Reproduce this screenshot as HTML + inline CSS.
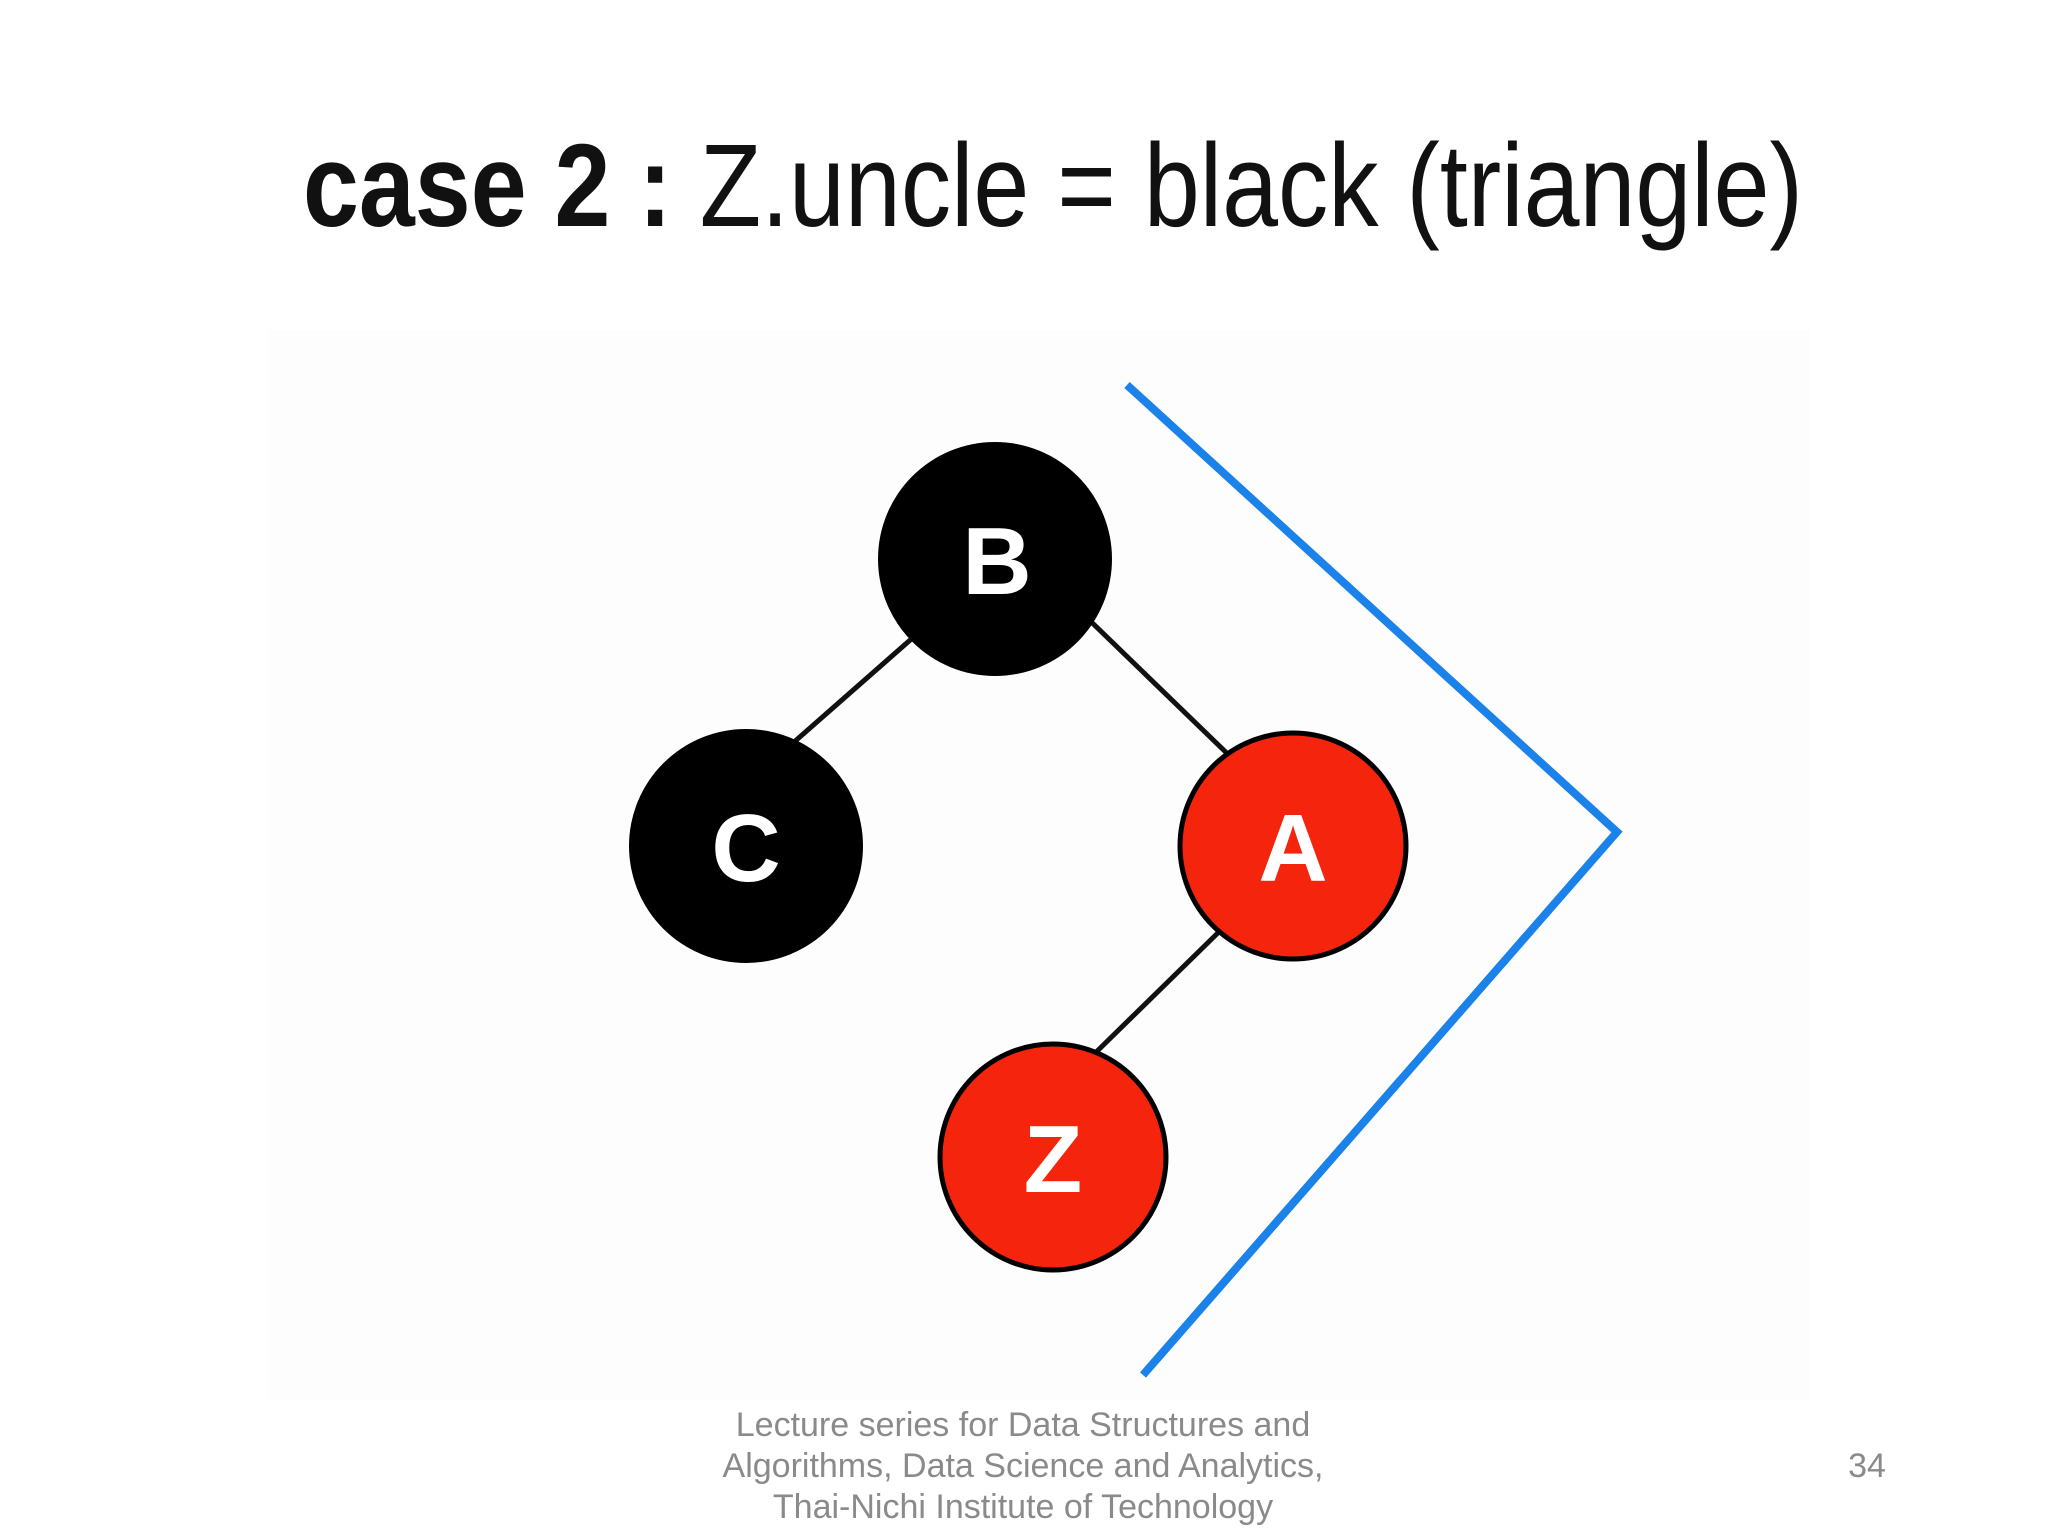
<!DOCTYPE html>
<html><head><meta charset="utf-8"><style>
html,body{margin:0;padding:0;background:#fff;width:2048px;height:1536px;overflow:hidden}
</style></head><body>
<svg width="2048" height="1536" viewBox="0 0 2048 1536" xmlns="http://www.w3.org/2000/svg">
<rect x="0" y="0" width="2048" height="1536" fill="#fff"/>
<rect x="268" y="330" width="1542" height="1070" fill="#fdfdfd"/>
<text x="303" y="226" font-family="Liberation Sans, sans-serif" font-size="118" textLength="1500" lengthAdjust="spacingAndGlyphs" fill="#111"><tspan font-weight="bold">case 2 : </tspan>Z.uncle = black (triangle)</text>
<g stroke="#111" stroke-width="5">
<line x1="925" y1="627" x2="785" y2="750"/>
<line x1="1080" y1="611" x2="1236" y2="762"/>
<line x1="1228" y1="923" x2="1085" y2="1063"/>
</g>
<polyline points="1127,385 1617,832 1143,1375" fill="none" stroke="#1a82e8" stroke-width="8"/>
<circle cx="995" cy="559" r="117" fill="#000"/>
<circle cx="746" cy="846" r="117" fill="#000"/>
<circle cx="1293" cy="846" r="113" fill="#f4250c" stroke="#000" stroke-width="5"/>
<circle cx="1053" cy="1157" r="113" fill="#f4250c" stroke="#000" stroke-width="5"/>
<g font-family="Liberation Sans, sans-serif" font-size="96" font-weight="bold" fill="#fff" text-anchor="middle">
<text x="997" y="594">B</text>
<text x="746" y="881">C</text>
<text x="1293" y="881">A</text>
<text x="1053" y="1192">Z</text>
</g>
<g font-family="Liberation Sans, sans-serif" font-size="34" fill="#8a8a8a" text-anchor="middle">
<text x="1023" y="1436">Lecture series for Data Structures and</text>
<text x="1023" y="1477">Algorithms, Data Science and Analytics,</text>
<text x="1023" y="1518">Thai-Nichi Institute of Technology</text>
<text x="1867" y="1477">34</text>
</g>
</svg>
</body></html>
